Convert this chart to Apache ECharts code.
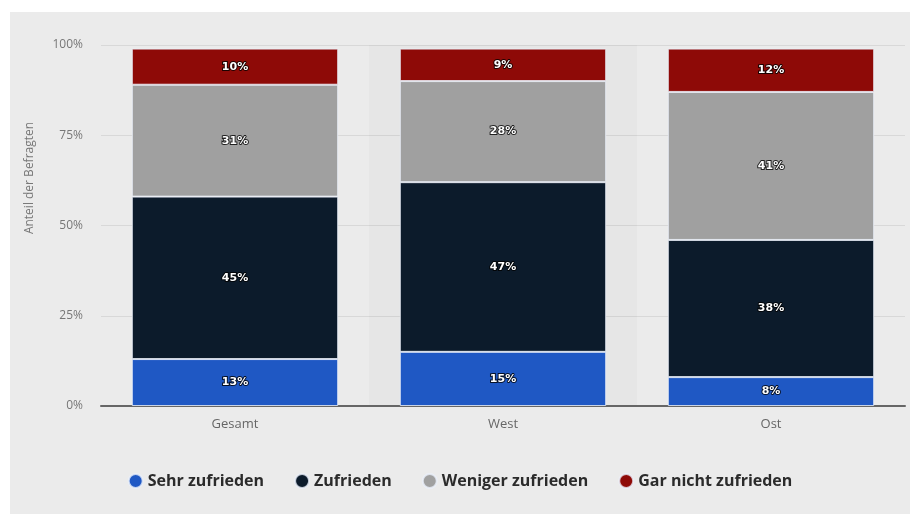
<!DOCTYPE html>
<html>
<head>
<meta charset="utf-8">
<script src="https://cdn.jsdelivr.net/npm/echarts@6/dist/echarts.min.js"></script>
<style>
    html, body {
        margin: 0;
        padding: 0;
        background: #fff;
    }
    #chart {
        position: absolute;
        left: 10px;
        top: 12px;
        width: 900px;
        height: 502px;
    }
</style>
</head>
<body>
<div id="chart"></div>
<script>
// Kategorien und Werte (Anteil der Befragten in %)
const categories = ['Gesamt', 'West', 'Ost']
const seriesNames = ['Sehr zufrieden', 'Zufrieden', 'Weniger zufrieden', 'Gar nicht zufrieden']
const sehrZufrieden = [13, 15, 8]
const zufrieden = [45, 47, 38]
const wenigerZufrieden = [31, 28, 41]
const garNichtZufrieden = [10, 9, 12]
const yTicks = [0, 25, 50, 75, 100]

const colors = ['#1f58c4', '#0c1b2b', '#a0a0a0', '#8e0a07']
const values = [sehrZufrieden, zufrieden, wenigerZufrieden, garNichtZufrieden]

const chart = echarts.init(document.getElementById('chart'))

const series = seriesNames.map((name, i) => {
    return {
        name: name,
        type: 'bar',
        stack: 'total',
        barWidth: '77%',
        data: values[i],
        itemStyle: {
            color: colors[i],
            borderColor: 'rgba(235, 240, 250, 0.8)',
            borderWidth: 1,
        },
        label: {
            show: true,
            position: 'inside',
            formatter: p => p.value + '%',
            color: '#fff',
            fontFamily: 'DejaVu Sans',
            fontWeight: 'bold',
            fontSize: 11,
            textBorderColor: 'rgba(0, 0, 0, 0.8)',
            textBorderWidth: 2,
        },
    }
})

const option = {
    animation: false,
    backgroundColor: '#ebebeb',
    textStyle: {
        fontFamily: 'Open Sans',
    },
    grid: {
        left: 91,
        right: 5,
        top: 33,
        bottom: 108,
    },
    legend: {
        bottom: 20,
        left: 'center',
        icon: 'circle',
        itemWidth: 14,
        itemHeight: 14,
        itemGap: 30,
        textStyle: {
            color: '#2b2b2b',
            fontSize: 16,
            fontWeight: 'bold',
        },
        data: seriesNames,
    },
    xAxis: {
        type: 'category',
        data: categories,
        axisLine: {
            lineStyle: {
                color: '#666',
                width: 2,
            },
        },
        axisTick: {
            show: false,
        },
        axisLabel: {
            color: '#666',
            fontSize: 13,
            margin: 12,
        },
        splitArea: {
            show: true,
            areaStyle: {
                color: ['rgba(0,0,0,0)', 'rgba(0,0,0,0.02)'],
            },
        },
    },
    yAxis: {
        type: 'value',
        min: yTicks[0],
        max: yTicks[yTicks.length - 1],
        interval: 25,
        axisLine: {
            show: false,
        },
        axisTick: {
            show: false,
        },
        axisLabel: {
            color: '#777',
            fontSize: 12,
            margin: 18,
            formatter: v => v + '%',
        },
        splitLine: {
            lineStyle: {
                color: '#d8d8d8',
                width: 1,
            },
        },
    },
    graphic: [
        {
            type: 'text',
            x: 20,
            y: 166,
            rotation: Math.PI / 2,
            style: {
                text: 'Anteil der Befragten',
                fill: '#777',
                fontSize: 12,
                fontFamily: 'Open Sans',
                align: 'center',
                verticalAlign: 'middle',
            },
        },
    ],
    series: series,
}

chart.setOption(option)
</script>
</body>
</html>
